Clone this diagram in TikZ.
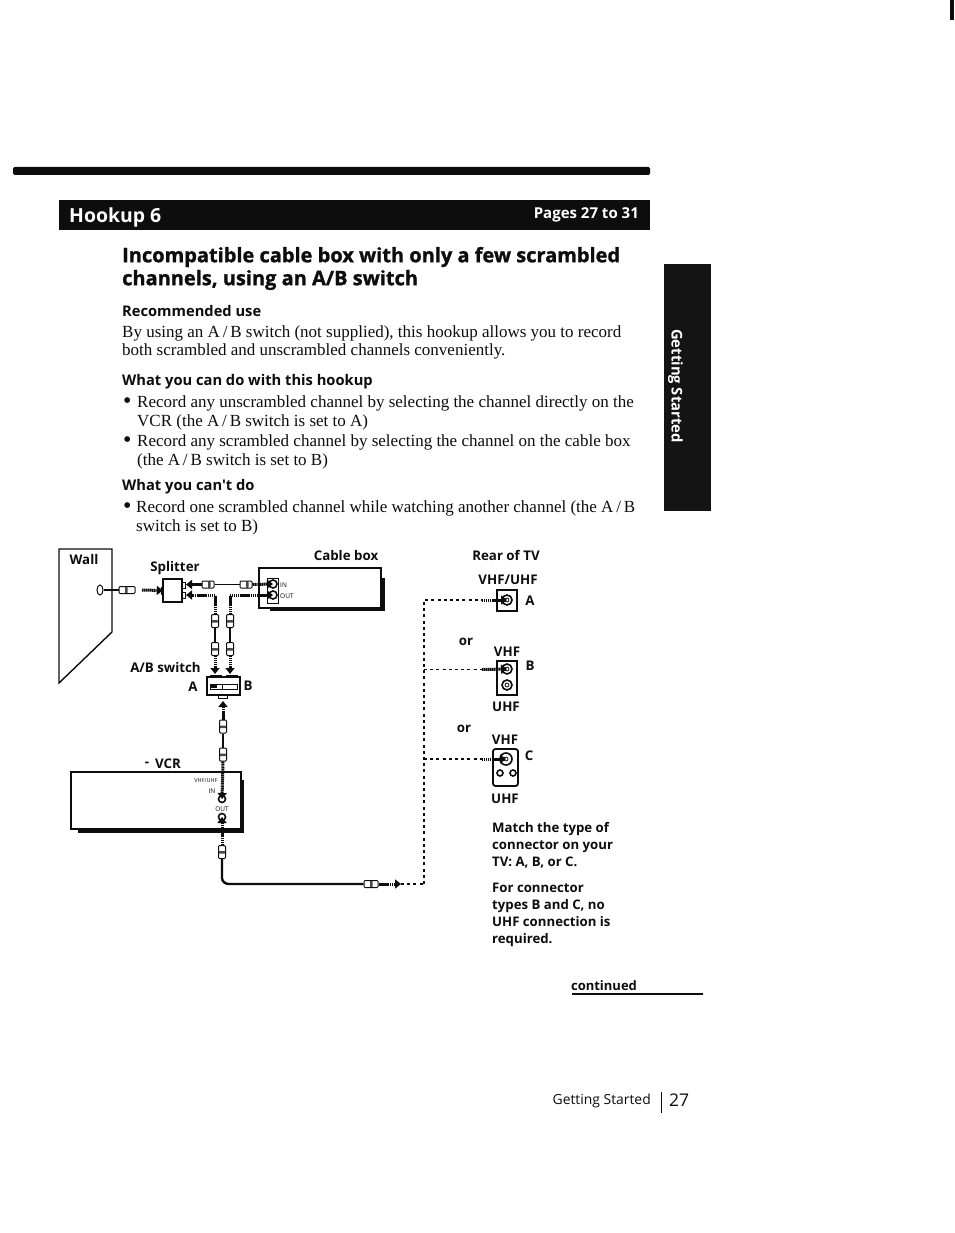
\documentclass[tikz,border=0pt]{standalone}
\usepackage{fontspec}
\setmainfont{Liberation Serif}
\newfontfamily\hsans{Open Sans}[UprightFont=*,BoldFont=* Bold]
\newfontfamily\titlesans{Open Sans Bold}[FakeBold=1.2]
\usetikzlibrary{arrows.meta,shapes.geometric}
\definecolor{inkc}{gray}{0.05}
\tikzset{
 lab/.style={font=\hsans\bfseries\fontsize{13.3}{16}\selectfont,text=inkc,inner sep=0,anchor=center},
 multi/.style={font=\hsans\bfseries\fontsize{13.2}{17}\selectfont,text=inkc,inner sep=0,anchor=north west,align=left},
 head/.style={font=\hsans\bfseries\fontsize{14.7}{18}\selectfont,text=inkc,inner sep=0,anchor=west},
 body/.style={font=\fontsize{17}{18}\selectfont,text=inkc,inner sep=0,anchor=west},
 bul/.style={font=\fontsize{24}{18}\selectfont,text=inkc,inner sep=0,anchor=west},
 titl/.style={font=\titlesans\fontsize{20}{23}\selectfont,text=inkc,inner sep=0,anchor=west},
 tiny/.style={font=\hsans\fontsize{6.5}{7}\selectfont,text=inkc,inner sep=0},
 cable/.style={line width=1.9pt,draw=inkc},
 hvcable/.style={line width=2.4pt,draw=inkc},
 flow/.style={line width=3pt,draw=inkc,dash pattern=on 1.4pt off .5pt,-{Triangle[width=9pt,length=6pt,fill=inkc]}},
 dashl/.style={line width=1.5pt,draw=inkc,dash pattern=on 3pt off 3.2pt},
 device/.style={draw=inkc,line width=1.6pt,fill=white},
 shadow/.style={fill=inkc,draw=none},
 plugv/.style={draw=inkc,line width=1pt,fill=white,minimum width=7pt,minimum height=13pt,inner sep=0,rounded corners=1pt,
   path picture={\fill[inkc!75] ([yshift=-5.5pt]path picture bounding box.north west) rectangle ([yshift=-8pt]path picture bounding box.north east);}},
 plugh/.style={draw=inkc,line width=1pt,fill=white,minimum width=14pt,minimum height=7pt,inner sep=0,rounded corners=1pt,
   path picture={\fill[inkc!75] ([xshift=6pt]path picture bounding box.north west) rectangle ([xshift=8.5pt]path picture bounding box.south west);}},
 jack/.style={circle,draw=inkc,line width=1.6pt,fill=white,minimum size=10pt,inner sep=0,
   path picture={\draw[inkc,line width=.8pt] (path picture bounding box.center) circle (2pt);}},
 jacks/.style={circle,draw=inkc,line width=1.6pt,fill=white,minimum size=6pt,inner sep=0},
}
\begin{document}
\begin{tikzpicture}[x=1pt,y=-1pt]
\useasboundingbox[fill=white] (0,0) rectangle (954,1233);
% scan edge mark
\fill[inkc] (950,0) rectangle (954,20);
% header
\fill[inkc,rounded corners=1.5pt] (13,167) rectangle (650,175);
\fill[inkc] (59,200) rectangle (650,230);
\node[font=\hsans\bfseries\fontsize{19.4}{22}\selectfont,text=white,inner sep=0,anchor=west] (hook) at (69,217) {Hookup 6};
\node[font=\hsans\bfseries\fontsize{15}{18}\selectfont,text=white,inner sep=0,anchor=east] (pages) at (639,215) {Pages 27 to 31};
% title
\node[titl] (t1) at (122,257) {Incompatible cable box with only a few scrambled};
\node[titl] (t2) at (122,280) {channels, using an A/B switch};
\node[head] (h1) at (122,311) {Recommended use};
\node[body] (b1) at (122,333.5) {By using an A\,/\,B switch (not supplied), this hookup allows you to record};
\node[body] (b2) at (122,351.5) {both scrambled and unscrambled channels conveniently.};
\node[head] (h2) at (122,382) {What you can do with this hookup};
\node[bul] (g1) at (123,403.5) {•};
\node[body] (b3) at (137,403.5) {Record any unscrambled channel by selecting the channel directly on the};
\node[body] (b4) at (137,422.5) {VCR (the A\,/\,B switch is set to A)};
\node[bul] (g2) at (123,442.5) {•};
\node[body] (b5) at (137,442.5) {Record any scrambled channel by selecting the channel on the cable box};
\node[body] (b6) at (137,461.5) {(the A\,/\,B switch is set to B)};
\node[head] (h3) at (122,487) {What you can't do};
\node[bul] (g3) at (123,508.5) {•};
\node[body] (b7) at (136,508.5) {Record one scrambled channel while watching another channel (the A\,/\,B};
\node[body] (b8) at (136,527.5) {switch is set to B)};
% side tab
\fill[black!92] (664,264) rectangle (711,511);
\node[font=\hsans\bfseries\fontsize{14.8}{18}\selectfont,text=white,inner sep=0,rotate=-90] (tab) at (675.5,386) {Getting Started};
% wall
\draw[device,fill=none,line width=1.4pt] (59,549) -- (112,549) -- (112,632) -- (59,683) -- cycle;
\node[lab] (wall) at (84,560) {Wall};
\node[draw=inkc,line width=1pt,ellipse,minimum width=6pt,minimum height=10pt,inner sep=0,fill=white] (outlet) at (100,590) {};
\node[plugh,minimum width=16pt] (wp) at (127,590) {};
\coordinate (wf) at (142,590);
% splitter
\draw[device,line width=1.1pt] (163,579) rectangle (182,602);
\node[inner sep=0,minimum width=19pt,minimum height=23pt] (split) at (172.5,590.5) {};
\draw[inkc,line width=1pt] (163,587) -- (161,587) -- (161,594) -- (163,594);
\draw[inkc,line width=1pt] (182,582) -- (185,582) -- (185,588) -- (182,588);
\draw[inkc,line width=1pt] (182,592) -- (185,592) -- (185,598) -- (182,598);
\node[lab] (spl) at (175,568) {Splitter};
\draw[cable] (outlet) -- (wp);
\draw[flow] (wf) -- (split.west);
% cable box
\fill[shadow] (270,606) rectangle (385,611);
\fill[shadow] (380,578) rectangle (385,611);
\draw[device] (259,568) rectangle (381,608);
\node[lab] (cb) at (346,556) {Cable box};
\draw[inkc,line width=1pt,fill=white] (267,578) rectangle (278,603);
\node[jacks,minimum size=8pt] (in) at (273,584) {};
\node[jacks,minimum size=8pt] (out) at (273,595) {};
\node[tiny,anchor=west] (inl) at (280,585) {IN};
\node[tiny,anchor=west] (outl) at (280,596) {OUT};
% top cable
\coordinate (sp1) at (186,584.5);
\coordinate (sp2) at (186,595);
\node[plugh,minimum width=12pt] (p1) at (208,584.5) {};
\node[plugh,minimum width=12pt] (p2) at (246,584.5) {};
\draw[cable] (p1) -- (p2);
\draw[flow] (p1.west) -- (sp1);
\draw[flow] (p2.east) -- (in.center);
% two cables down
\coordinate (c1) at (215,595);
\coordinate (c2) at (230,595);
\node[plugv] (q1) at (215,621) {};
\node[plugv] (q2) at (215,649) {};
\node[plugv] (r1) at (230,621) {};
\node[plugv] (r2) at (230,649) {};
\draw[flow,-] (q1.north) -- (c1);
\draw[flow] (c1) -- (sp2);
\draw[flow,-] (r1.north) -- (c2);
\draw[flow] (c2) -- (out.center);
\draw[cable] (q1) -- (q2);
\draw[cable] (r1) -- (r2);
% A/B switch
\node[lab] (ab) at (165.5,668) {A/B switch};
\node[lab] (aa) at (193,687) {A};
\node[lab] (bb) at (248,686) {B};
\node[device,line width=1.2pt,minimum width=33pt,minimum height=18pt,inner sep=0] (sw) at (223.5,686) {};
\draw[inkc,line width=1pt] (210,677) -- (210,675.5) -- (221,675.5) -- (221,677);
\draw[inkc,line width=1pt] (226,677) -- (226,675.5) -- (237,675.5) -- (237,677);
\draw[inkc,line width=1pt] (218,695) -- (218,698.5) -- (227,698.5) -- (227,695);
\draw[inkc,line width=.8pt,fill=white] (210,684) rectangle (237,689);
\fill[inkc] (211,685) rectangle (217,688);
\draw[inkc,line width=.8pt] (222,684) -- (222,689);
\draw[flow] (q2.south) -- (215,674);
\draw[flow] (r2.south) -- (230,674);
% VCR
\fill[shadow] (78,828) rectangle (244,833);
\fill[shadow] (239,780) rectangle (244,833);
\draw[device] (71,772) rectangle (241,829);
\node[lab] (vcr) at (168,764) {VCR};
\node[lab] (vcrd) at (147,764) {-};
\node[tiny,font=\hsans\fontsize{5.5}{6}\selectfont] (vu) at (206,781) {VHF/UHF};
\node[tiny] (vin) at (212,791) {IN};
\node[tiny] (vout) at (222,809) {OUT};
\node[jacks,minimum size=7pt] (vi) at (222,799) {};
\node[jacks,minimum size=7pt] (vo) at (222,817) {};
% switch to VCR
\node[plugv] (s1) at (223,726.5) {};
\node[plugv] (s2) at (223,754.5) {};
\coordinate (st) at (223,701);
\draw[flow] (s1.north) -- (st);
\draw[cable] (s1) -- (s2);
\draw[flow] (s2.south) -- (vi.center);
\node[plugv] (o1) at (222,852) {};
\draw[flow] (o1.north) -- (vo.center);
% cable to TV
\node[plugh,minimum width=14pt] (o2) at (371,884) {};
\coordinate (fe) at (401,884);
\coordinate (jn) at (424,884);
\draw[hvcable] (o1.south) -- (222,878) to[out=-90,in=180,looseness=1] (229,884) -- (o2.west);
\draw[flow] (o2.east) -- (fe);
% TV connectors
\node[lab] (rear) at (506,555) {Rear of TV};
\node[lab] (vu1) at (508,580) {VHF/UHF};
\node[lab] (ta) at (530,601) {A};
\node[lab] (or1) at (466,642) {or};
\node[lab] (v2) at (507,652) {VHF};
\node[lab] (tb) at (530,666) {B};
\node[lab] (u2) at (506,707) {UHF};
\node[lab] (or2) at (464,729) {or};
\node[lab] (v3) at (505,740) {VHF};
\node[lab] (tc) at (529,756) {C};
\node[lab] (u3) at (505,799) {UHF};
\draw[device,line width=1.2pt] (497,590) rectangle (517,611);
\draw[device,line width=1.2pt] (497,661) rectangle (517,695);
\draw[device,line width=1.8pt,rounded corners=2.5pt] (493,749) rectangle (518,786);
\node[jack] (ja) at (507,600) {};
\node[jack] (jb) at (507,669) {};
\node[jack] (jb2) at (507,685) {};
\node[jack,minimum size=12pt] (jc) at (506,759) {};
\node[jacks] (jc1) at (500,773) {};
\node[jacks] (jc2) at (513,773) {};
\coordinate (ca) at (482,600);
\coordinate (cb2) at (482,669.5);
\coordinate (cc) at (482,759);
\draw[dashl] (fe) -- (jn);
\draw[dashl] (jn) -- (424,600) -- (ca);
\draw[dashl] (424,669.5) -- (cb2);
\draw[dashl] (424,759) -- (cc);
\draw[flow] (ca) -- (ja.center);
\draw[flow] (cb2) -- (jb.center);
\draw[flow] (cc) -- (jc.center);
% notes
\node[multi] (m1) at (492,822) {Match the type of\\connector on your\\TV: A, B, or C.};
\node[multi] (m2) at (492,883) {For connector\\types B and C, no\\UHF connection is\\required.};
% footer
\node[lab,font=\hsans\bfseries\fontsize{13}{16}\selectfont] (cont) at (604,986) {continued};
\draw[inkc,line width=1.6pt] (572,994) -- (703,994);
\node[font=\hsans\fontsize{13.9}{16}\selectfont,text=inkc,inner sep=0,anchor=east] (gs) at (651,1101) {Getting Started};
\node[font=\hsans\fontsize{17.5}{20}\selectfont,text=inkc,inner sep=0] (pn) at (679,1100) {27};
\draw[inkc,line width=.8pt] (661,1092) -- (661,1113);
\end{tikzpicture}
\end{document}
